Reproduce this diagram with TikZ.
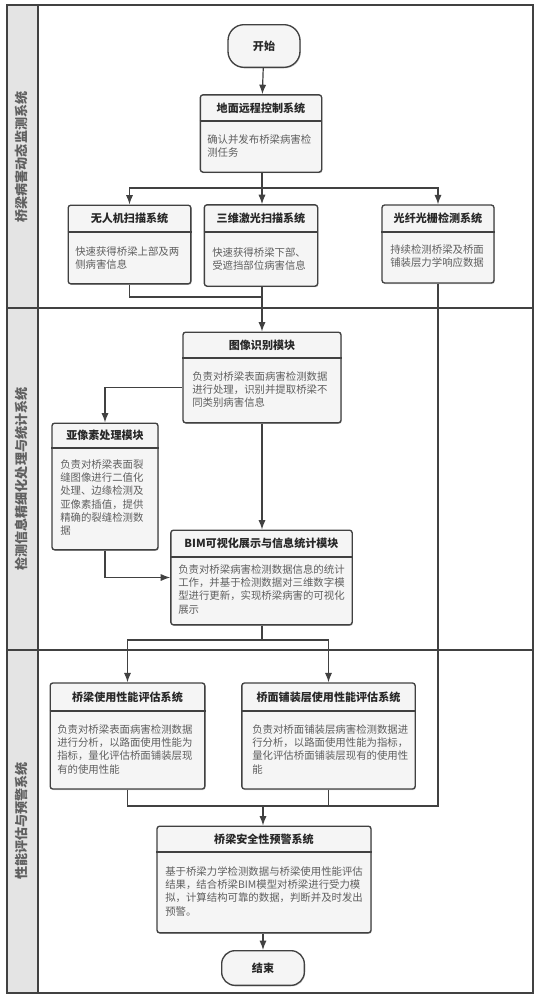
\documentclass[tikz,border=0pt]{standalone}
\usepackage{fontspec}
\setmainfont{Noto Sans CJK SC}
\usepackage{tikz}
\usetikzlibrary{arrows.meta,shadows}
\definecolor{lanegrey}{RGB}{228,228,228}
\definecolor{boxgrey}{RGB}{245,245,245}
\definecolor{framedark}{RGB}{65,65,65}
\definecolor{textdark}{RGB}{40,40,40}
\definecolor{textgrey}{RGB}{95,95,95}
\tikzset{
  >={Latex[length=2.5mm,width=1.9mm]},
  flow/.style={->, line width=0.9pt, draw=framedark},
  link/.style={line width=0.9pt, draw=framedark},
  sysbox/.style={
    draw=framedark,
    line width=1pt,
    rounded corners=2pt,
    fill=boxgrey,
    drop shadow={shadow xshift=0.6pt, shadow yshift=-0.8pt, fill=black!35}
  },
  terminal/.style={sysbox, rounded corners=12pt},
  titletext/.style={font=\fontsize{8.3}{10}\selectfont\bfseries, text=textdark},
  bodytext/.style={font=\fontsize{7.8}{10}\selectfont, text=textgrey,
    align=left, inner sep=0pt, anchor=north west},
  divline/.style={line width=1.1pt, draw=framedark},
  laneline/.style={line width=1.2pt, draw=framedark},
  lanetext/.style={font=\fontsize{9.8}{12}\selectfont\bfseries, text=textgrey, rotate=90}
}

\begin{document}
\begin{tikzpicture}[x=0.75pt,y=-0.75pt]
  \useasboundingbox[fill=white] (0,0) rectangle (540,1000);

  % swimlanes
  \draw[fill=lanegrey, draw=framedark, line width=1pt] (7,5) rectangle (38,993);
  \draw[laneline] (7,5) rectangle (533,993);
  \foreach \y in {308,650}
    \draw[laneline] (7,\y) -- (533,\y);
  \node[lanetext] (laneA) at (22,157) {桥梁病害动态监测系统};
  \node[lanetext] (laneB) at (22,479) {检测信息精细化处理与统计系统};
  \node[lanetext] (laneC) at (22,821) {性能评估与预警系统};

  % terminals
  \node[terminal,minimum width=54pt,minimum height=32pt] (start) at (264,46) {};
  \node[titletext] (startT) at (start.center) {开始};
  \node[terminal,minimum width=62pt,minimum height=26pt,rounded corners=10pt] (stop) at (263,968) {};
  \node[titletext] (stopT) at (stop.center) {结束};

  % lane 1
  \node[sysbox,minimum width=91pt,minimum height=58pt] (ctrl) at (261,133.5) {};
  \node[titletext] (ctrlT) at (ctrl.north |- 0,108) {地面远程控制系统};
  \draw[divline] (ctrl.west |- 0,121) -- (ctrl.east |- 0,121);
  \node[bodytext] (ctrlB) at (207,134) {确认并发布桥梁病害检\\测任务};

  \node[sysbox,minimum width=92pt,minimum height=59pt] (uav) at (129.5,244.5) {};
  \node[titletext] (uavT) at (uav.north |- 0,218.5) {无人机扫描系统};
  \draw[divline] (uav.west |- 0,232) -- (uav.east |- 0,232);
  \node[bodytext] (uavB) at (75,246) {快速获得桥梁上部及两\\侧病害信息};

  \node[sysbox,minimum width=85pt,minimum height=61pt] (laser) at (261,245.5) {};
  \node[titletext] (laserT) at (laser.north |- 0,218.5) {三维激光扫描系统};
  \draw[divline] (laser.west |- 0,232) -- (laser.east |- 0,232);
  \node[bodytext] (laserB) at (212,247) {快速获得桥梁下部、\\受遮挡部位病害信息};

  \node[sysbox,minimum width=84pt,minimum height=58.5pt] (fiber) at (438,244) {};
  \node[titletext] (fiberT) at (fiber.north |- 0,218.5) {光纤光栅检测系统};
  \draw[divline] (fiber.west |- 0,232) -- (fiber.east |- 0,232);
  \node[bodytext] (fiberB) at (390,244) {持续检测桥梁及桥面\\铺装层力学响应数据};

  % lane 2
  \node[sysbox,minimum width=118.5pt,minimum height=68pt] (img) at (262,377.5) {};
  \node[titletext] (imgT) at (img.north |- 0,345) {图像识别模块};
  \draw[divline] (img.west |- 0,358) -- (img.east |- 0,358);
  \node[bodytext] (imgB) at (192,371) {负责对桥梁表面病害检测数据\\进行处理，识别并提取桥梁不\\同类别病害信息};

  \node[sysbox,minimum width=79.5pt,minimum height=95pt] (sub) at (105,486.5) {};
  \node[titletext] (subT) at (sub.north |- 0,435.5) {亚像素处理模块};
  \draw[divline] (sub.west |- 0,448) -- (sub.east |- 0,448);
  \node[bodytext] (subB) at (60,459) {负责对桥梁表面裂\\缝图像进行二值化\\处理、边缘检测及\\亚像素插值，提供\\精确的裂缝检测数\\据};

  \node[sysbox,minimum width=136pt,minimum height=71pt] (bim) at (261.5,577.5) {};
  \node[titletext] (bimT) at (bim.north |- 0,543.5) {BIM可视化展示与信息统计模块};
  \draw[divline] (bim.west |- 0,557) -- (bim.east |- 0,557);
  \node[bodytext] (bimB) at (178,564) {负责对桥梁病害检测数据信息的统计\\工作，并基于检测数据对三维数字模\\型进行更新，实现桥梁病害的可视化\\展示};

  % lane 3
  \node[sysbox,minimum width=116pt,minimum height=79.5pt] (evalA) at (127.5,736) {};
  \node[titletext] (evalAT) at (evalA.north |- 0,697) {桥梁使用性能评估系统};
  \draw[divline] (evalA.west |- 0,711) -- (evalA.east |- 0,711);
  \node[bodytext] (evalAB) at (57,724) {负责对桥梁表面病害检测数据\\进行分析，以路面使用性能为\\指标，量化评估桥面铺装层现\\有的使用性能};

  \node[sysbox,minimum width=130pt,minimum height=79.5pt] (evalB) at (328.5,736) {};
  \node[titletext] (evalBT) at (evalB.north |- 0,697) {桥面铺装层使用性能评估系统};
  \draw[divline] (evalB.west |- 0,711) -- (evalB.east |- 0,711);
  \node[bodytext] (evalBB) at (252,724) {负责对桥面铺装层病害检测数据进\\行分析，以路面使用性能为指标，\\量化评估桥面铺装层现有的使用性\\能};

  \node[sysbox,minimum width=160.5pt,minimum height=80pt] (warn) at (264,879.5) {};
  \node[titletext] (warnT) at (warn.north |- 0,839) {桥梁安全性预警系统};
  \draw[divline] (warn.west |- 0,852) -- (warn.east |- 0,852);
  \node[bodytext] (warnB) at (165,866) {基于桥梁力学检测数据与桥梁使用性能评估\\结果，结合桥梁BIM模型对桥梁进行受力模\\拟，计算结构可靠的数据，判断并及时发出\\预警。};

  % junctions
  \coordinate (splitA) at (262,188);
  \coordinate (joinA) at (262,297);
  \coordinate (splitB) at (262,640);
  \coordinate (joinB) at (263,806);

  % connectors
  \draw[flow] (start) -- (ctrl);
  \draw[link] (ctrl.south -| splitA) -- (splitA);
  \draw[flow] (splitA) -| (uav.north);
  \draw[flow] (splitA) -- (splitA |- laser.north);
  \draw[flow] (splitA) -| (fiber.north);
  \draw[link] (uav.south) |- (joinA);
  \draw[flow] (laser.south -| joinA) -- (joinA |- img.north);
  \draw[flow] ([yshift=-7.5pt]img.west) -| (sub.north);
  \draw[flow] (img.south) -- (img.south |- bim.north);
  \draw[flow] (sub.south) |- (bim.west);
  \draw[link] (bim.south -| splitB) -- (splitB);
  \draw[flow] (splitB) -| (evalA.north);
  \draw[flow] (splitB) -| (evalB.north);
  \draw[link] (evalA.south) |- (joinB);
  \draw[link] (evalB.south) |- (joinB);
  \draw[link] (fiber.south) |- (joinB);
  \draw[flow] (joinB) -- (joinB |- warn.north);
  \draw[flow] (warn.south -| stop.north) -- (stop.north);
\end{tikzpicture}
\end{document}
